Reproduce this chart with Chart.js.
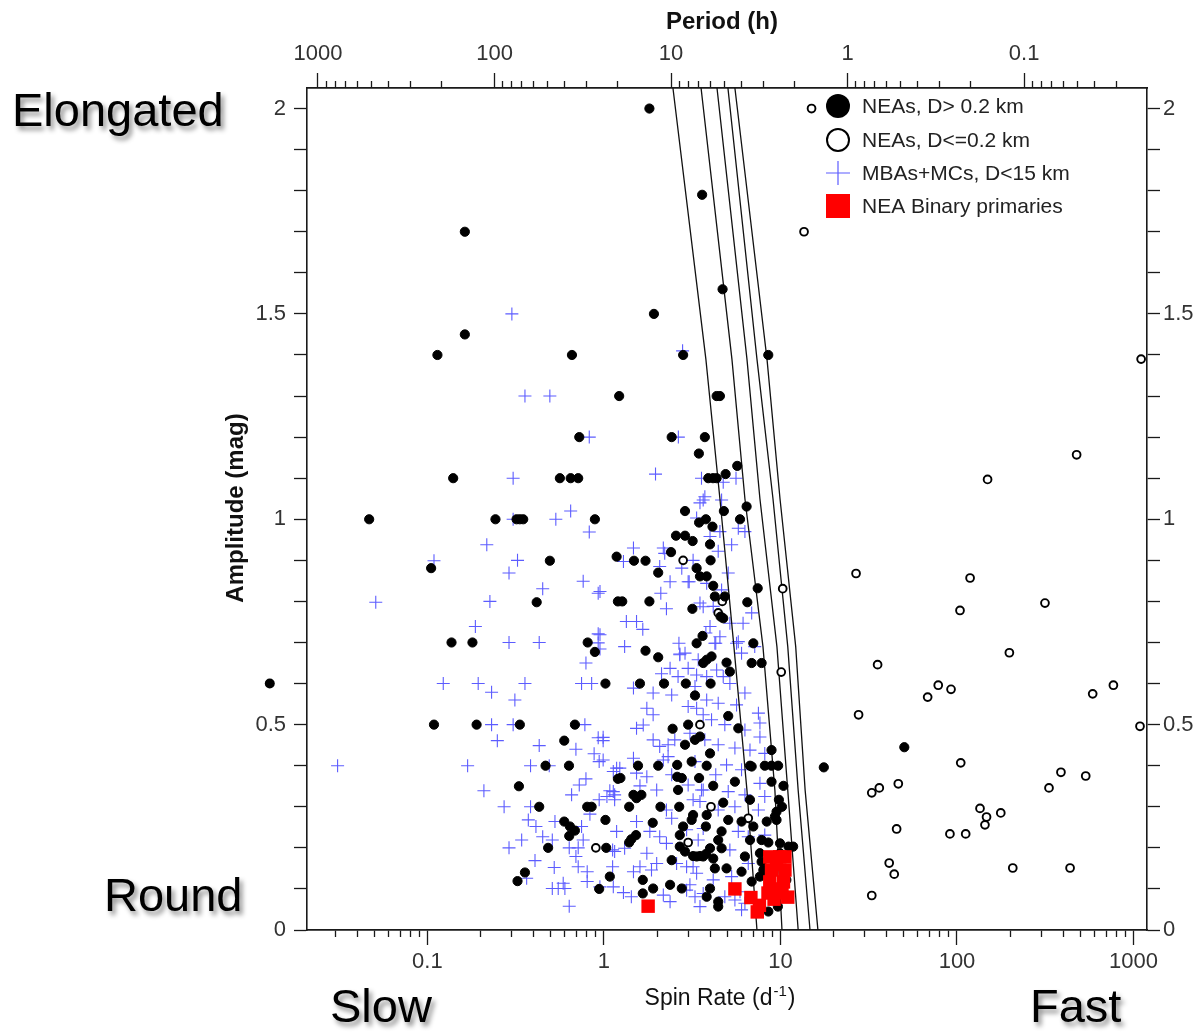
<!DOCTYPE html>
<html>
<head>
<meta charset="utf-8">
<script src="https://cdn.jsdelivr.net/npm/chart.js@4.4.1/dist/chart.umd.min.js"></script>
<style>
  html, body { margin: 0; padding: 0; background: #fff; }
</style>
</head>
<body>
<canvas id="spin-rate-chart" width="1203" height="1035"></canvas>
<script>
// points are [spin rate (1/d), amplitude (mag)]
var neaLarge = [
  [1.81,2.0],[3.6,1.79],[0.163,1.70],[4.7,1.56],[1.92,1.50],[0.163,1.45],[0.114,1.40],[0.659,1.40],[2.81,1.40],[8.53,1.40],
  [1.22,1.30],[4.35,1.30],[4.54,1.30],[0.725,1.20],[2.42,1.20],[3.73,1.20],[3.45,1.16],[5.69,1.13],[0.14,1.10],[0.563,1.10],
  [0.648,1.10],[0.715,1.10],[3.9,1.10],[4.15,1.10],[4.35,1.10],[4.89,1.11],
  [0.0468,1.0],[0.243,1.0],[0.32,1.0],[0.334,1.0],[0.349,1.0],[0.889,1.0],[1.18,0.909],[0.494,0.899],[0.105,0.881],[0.416,0.798],
  [0.137,0.70],[0.18,0.70],[0.809,0.70],[0.889,0.677],[1.02,0.60],[0.109,0.50],[0.19,0.50],[0.334,0.50],[0.685,0.50],[0.596,0.461],
  [0.467,0.40],[0.634,0.40],[1.2,0.368],[0.33,0.35],[0.43,0.30],[0.804,0.30],[0.852,0.30],[1.02,0.268],[0.596,0.264],[0.642,0.252],
  [0.685,0.242],[0.636,0.229],[0.483,0.20],[1.03,0.20],[0.357,0.14],[0.324,0.119],[1.08,0.13],[0.94,0.10],[0.0128,0.60],
  [2.88,1.02],[3.46,0.992],[3.78,1.0],[2.56,0.96],[2.88,0.96],[3.18,0.947],[2.4,0.92],[1.48,0.899],[1.72,0.899],[2.03,0.87],
  [3.35,0.881],[3.5,0.861],[3.82,0.861],[1.2,0.80],[1.27,0.80],[1.81,0.80],[3.17,0.782],[3.62,0.716],[3.35,0.698],[1.72,0.68],[2.03,0.664],
  [4.78,1.02],[6.43,1.031],[5.9,1.0],[4.12,0.982],[3.99,0.939],[4.02,0.90],[4.16,0.838],[7.43,0.832],[4.25,0.812],[4.84,0.812],
  [6.49,0.798],[4.58,0.763],[4.74,0.759],[7.02,0.698],
  [3.65,0.65],[1.6,0.60],[2.19,0.60],[2.91,0.60],[3.28,0.571],[2.45,0.49],[3.0,0.50],[3.28,0.463],[3.5,0.471],[2.88,0.451],
  [1.56,0.40],[2.03,0.40],[2.6,0.402],[3.14,0.41],[3.82,0.40],[1.24,0.37],[2.6,0.373],[2.76,0.37],[3.46,0.37],[2.63,0.341],
  [1.47,0.329],[1.63,0.329],[1.53,0.321],[1.39,0.30],[2.09,0.30],[2.67,0.30],[3.2,0.28],[3.14,0.268],[3.82,0.28],[1.89,0.261],
  [2.81,0.252],[2.69,0.231],[3.78,0.252],[1.52,0.231],[1.43,0.221],[1.39,0.213],[2.69,0.203],[2.88,0.191],[3.2,0.18],[3.5,0.18],
  [3.78,0.185],[2.42,0.17],[1.66,0.122],[1.9,0.101],[1.66,0.089],[2.37,0.11],[2.76,0.101],[3.82,0.081],
  [3.82,0.658],[4.07,0.666],[4.95,0.651],[5.17,0.629],[6.87,0.65],[7.82,0.65],[4.02,0.60],[5.06,0.521],[5.77,0.491],[8.9,0.438],
  [3.99,0.43],[6.87,0.398],[6.72,0.40],[8.15,0.40],[8.9,0.40],[9.7,0.40],[4.16,0.351],[5.52,0.361],[8.9,0.361],[10.4,0.351],
  [4.74,0.31],[6.72,0.317],[9.8,0.317],[10.2,0.30],[9.5,0.288],[9.3,0.276],[5.06,0.268],[6.02,0.264],[7.02,0.252],[8.36,0.264],
  [9.5,0.268],[4.64,0.24],[4.44,0.219],[4.64,0.199],[6.72,0.219],[7.82,0.219],[8.54,0.213],[9.94,0.211],[11.1,0.203],[11.8,0.203],
  [3.35,0.179],[3.65,0.179],[3.99,0.199],[4.16,0.174],[4.25,0.15],[6.29,0.179],[7.65,0.187],[7.82,0.166],[8.0,0.146],[7.65,0.13],
  [4.95,0.15],[6.02,0.142],[6.87,0.118],[3.99,0.101],[4.44,0.069],[4.44,0.057],[8.54,0.045],[9.67,0.057],[9.3,0.073],[10.6,0.138],
  [10.8,0.122],[9.94,0.187],[17.6,0.396],[50.3,0.445]
];

var neaSmall = [
  [15.0,2.0],[13.6,1.70],[1104,1.39],[476,1.157],[149,1.097],[26.8,0.868],[118.6,0.857],[104,0.778],[315,0.796],[198,0.675],
  [35.5,0.646],[78.3,0.596],[68.2,0.567],[92.5,0.586],[769,0.596],[587,0.575],[27.7,0.524],[1088,0.496],[105,0.407],[388,0.384],
  [536,0.375],[332,0.346],[32.9,0.334],[36.3,0.346],[46.5,0.356],[135,0.296],[147,0.275],[144,0.256],[177,0.285],[45.5,0.246],
  [91.2,0.234],[112,0.234],[41.3,0.163],[44.1,0.136],[207,0.151],[437,0.151],[32.9,0.084],[10.3,0.831],[10.1,0.628],[2.81,0.90],
  [4.68,0.80],[4.44,0.772],[3.5,0.50],[4.04,0.30],[3.0,0.213],[6.57,0.272],[0.90,0.20]
];

var mbaSmall = [
  [0.301,1.50],[0.357,1.30],[0.494,1.30],[0.826,1.20],[2.64,1.20],[2.79,1.41],[0.306,1.10],[1.96,1.11],[3.57,1.10],[4.74,1.09],[5.6,1.10],
  [3.73,1.055],[3.5,1.04],[3.65,1.047],[4.64,1.047],[3.35,1.003],[4.54,0.97],[5.77,0.978],[6.29,0.97],[3.99,0.958],[5.29,0.938],
  [4.44,0.922],[3.2,0.90],[2.76,0.881],[5.06,0.869],[3.0,0.848],[3.82,0.844],[4.64,0.828],[3.5,0.796],[4.16,0.788],[6.87,0.772],
  [3.99,0.739],[5.17,0.747],[6.14,0.747],[4.54,0.714],[4.25,0.698],[5.64,0.698],
  [1.47,0.93],[1.29,0.897],[2.17,0.93],[2.21,0.917],[2.07,0.885],[2.37,0.848],[3.04,0.848],[2.1,0.82],[2.26,0.782],[3.65,0.787],
  [1.34,0.751],[1.53,0.751],[1.66,0.732],[0.95,0.824],[0.95,0.719],[1.31,0.69],[0.95,0.684],[2.66,0.698],[2.69,0.672],[3.78,0.723],
  [0.648,1.02],[0.534,1.0],[0.306,1.0],[0.826,0.969],[0.217,0.938],[0.109,0.899],[0.324,0.9],[0.29,0.869],[0.763,0.849],[0.45,0.831],
  [0.928,0.82],[0.051,0.798],[0.226,0.80],[0.187,0.739],[0.928,0.721],[0.928,0.699],[0.29,0.70],[0.43,0.70],[0.791,0.65],[0.123,0.60],
  [0.194,0.60],[0.231,0.579],[0.357,0.60],[0.747,0.60],[0.852,0.60],[0.313,0.56],[0.231,0.50],[0.306,0.50],[0.78,0.50],[0.249,0.461],
  [0.928,0.468],[0.99,0.461],[0.43,0.449],[0.694,0.44],[0.88,0.429],[0.94,0.41],[0.031,0.40],[0.169,0.40],[0.384,0.40],[0.49,0.40],
  [1.18,0.394],[0.209,0.339],[0.791,0.368],[0.725,0.353],[0.656,0.329],[1.08,0.339],[1.15,0.329],[0.272,0.30],[0.384,0.30],[0.94,0.317],
  [0.833,0.282],[0.373,0.268],[0.412,0.252],[0.528,0.264],[0.45,0.227],[0.51,0.219],[0.747,0.252],[0.763,0.219],[0.342,0.219],[0.29,0.20],
  [0.636,0.20],[0.715,0.20],[1.12,0.195],[1.12,0.154],[0.694,0.179],[0.407,0.169],[0.523,0.152],[0.715,0.154],[0.804,0.142],[0.804,0.118],
  [0.949,0.105],[0.365,0.126],[0.51,0.101],[0.551,0.101],[0.588,0.114],[0.601,0.101],[0.636,0.058],
  [2.69,0.67],[2.12,0.624],[2.37,0.637],[2.63,0.617],[3.0,0.637],[3.35,0.621],[3.82,0.617],[1.47,0.589],[1.9,0.577],[2.42,0.572],
  [1.75,0.54],[1.9,0.524],[3.35,0.54],[3.65,0.524],[0.99,0.469],[1.53,0.491],[1.67,0.499],[1.9,0.463],[2.07,0.447],[2.31,0.451],
  [2.52,0.463],[0.99,0.414],[1.23,0.394],[1.13,0.386],[1.47,0.418],[1.53,0.382],[1.75,0.373],[2.17,0.414],[2.31,0.422],[2.42,0.378],
  [1.6,0.351],[1.99,0.341],[1.13,0.337],[1.04,0.325],[1.15,0.317],[3.57,0.341],[3.5,0.313],[2.26,0.292],[2.42,0.272],[1.53,0.264],
  [1.18,0.24],[1.82,0.24],[2.07,0.227],[2.26,0.211],[1.31,0.199],[1.15,0.191],[1.75,0.187],[1.99,0.162],[1.86,0.146],[1.6,0.154],
  [1.47,0.142],[2.58,0.162],[2.94,0.154],[3.35,0.138],[1.29,0.091],[1.43,0.081],[2.17,0.085],[2.37,0.069],[2.94,0.097],[3.28,0.081],
  [3.5,0.057],[1.13,0.105],
  [4.3,0.698],[5.77,0.702],[6.02,0.674],[7.15,0.69],[2.88,0.674],[3.42,0.658],[4.35,0.633],[4.74,0.617],[3.28,0.593],[3.82,0.56],
  [5.17,0.60],[6.29,0.577],[4.44,0.552],[5.64,0.548],[7.5,0.528],[7.65,0.504],[3.0,0.544],[4.07,0.512],[4.84,0.50],[6.29,0.487],
  [7.65,0.47],[3.07,0.479],[3.73,0.463],[4.44,0.451],[5.52,0.443],[6.72,0.438],[8.15,0.43],[3.28,0.41],[4.95,0.402],[6.02,0.39],
  [4.3,0.378],[7.65,0.357],[3.0,0.353],[3.65,0.341],[5.06,0.337],[6.29,0.329],[8.15,0.325],[3.2,0.317],[4.44,0.292],[5.52,0.30],
  [7.5,0.292],[3.65,0.247],[5.77,0.24],[6.57,0.227],[2.94,0.244],[3.42,0.219],[5.17,0.195],[3.2,0.154],[4.16,0.122],[5.29,0.13],
  [6.57,0.162],[8.15,0.231],[3.07,0.11],[3.65,0.089],[4.84,0.081],[5.9,0.093],[6.29,0.065],[6.02,0.049],[5.52,0.073]
];

var neaBinary = [
  [1.78,0.058],[5.52,0.10],[6.8,0.079],[7.39,0.044],[7.6,0.06],[8.7,0.178],[9.9,0.178],[10.6,0.178],[8.9,0.146],[10.6,0.146],
  [8.7,0.117],[10.4,0.117],[8.5,0.09],[9.7,0.09],[11.0,0.08],[9.2,0.075],[10.2,0.1],[9.5,0.16]
];

var barrierAmp = [2.05, 1.39, 1.05, 0.69, 0.34, 0];
var barrierSpin1 = [2.46, 3.78, 4.54, 5.45, 6.46, 7.36];
var barrierSpin2 = [3.55, 5.31, 6.29, 7.96, 9.3, 10.2];
var barrierSpin3 = [4.37, 6.46, 7.65, 9.55, 11.0, 12.6];
var barrierSpin4 = [5.04, 7.36, 9.07, 11.0, 12.6, 14.7];
var barrierSpin5 = [5.52, 8.39, 9.94, 12.2, 13.8, 16.3];

var spinMajorTicks = [0.1, 1, 10, 100, 1000];
var periodMajorTicks = [1000, 100, 10, 1, 0.1];
var ampLabels = [0, 0.5, 1, 1.5, 2];
var spinMin = 0.0208, spinMax = 1192;
var ampMin = 0, ampMax = 2.05;

var seriesNames = ['NEAs, D> 0.2 km', 'NEAs, D<=0.2 km', 'MBAs+MCs, D<15 km', 'NEA Binary primaries'];

function toXY(p) { return { x: p[0], y: p[1] }; }

function minorsOf(decades) {
  var out = [];
  for (var i = 0; i < decades.length; i++) {
    for (var m = 2; m <= 9; m++) out.push(Math.round(m * decades[i] * 1e6) / 1e6);
  }
  return out;
}

var spinMinorTicks = minorsOf([0.01, 0.1, 1, 10, 100, 1000]).filter(function(v) { return v > spinMin && v < spinMax; });
var periodMinorTicks = minorsOf([0.01, 0.1, 1, 10, 100]).filter(function(p) { return 24 / p > spinMin && 24 / p < spinMax; });

function useTicks(values) {
  return function(scale) {
    scale.ticks = values.map(function(v) { return { value: v }; });
  };
}
function fixHeight(h) { return function(scale) { scale.height = h; }; }
function fixWidth(w) { return function(scale) { scale.width = w; }; }

var frameColor = '#1a1a1a';
var labelColor = '#333';
var fontFamily = '"Liberation Sans", Arial, sans-serif';

function xAxis(position, weight, ticks, tickLength, height, labels, pad) {
  return {
    type: 'logarithmic',
    position: position,
    weight: weight,
    min: spinMin,
    max: spinMax,
    afterBuildTicks: useTicks(ticks),
    afterFit: fixHeight(height),
    grid: { drawOnChartArea: false, tickLength: tickLength, tickColor: frameColor, tickWidth: 1.3 },
    border: { color: frameColor, width: 1.6 },
    ticks: {
      display: !!labels,
      autoSkip: false,
      maxRotation: 0,
      padding: pad || 3,
      color: labelColor,
      font: { size: 22 },
      callback: function(v, i) { return labels ? String(labels[i]) : ''; }
    }
  };
}

function yAxis(position, width, pad) {
  return {
    type: 'linear',
    position: position,
    min: ampMin,
    max: ampMax,
    afterFit: fixWidth(width),
    grid: { drawOnChartArea: false, tickLength: 13, tickColor: frameColor, tickWidth: 1.3 },
    border: { color: frameColor, width: 1.6 },
    ticks: {
      stepSize: 0.1,
      includeBounds: false,
      autoSkip: false,
      padding: pad,
      color: labelColor,
      font: { size: 22 },
      callback: function(v) {
        for (var i = 0; i < ampLabels.length; i++) {
          if (Math.abs(v - ampLabels[i]) < 1e-6) return String(ampLabels[i]);
        }
        return '';
      }
    }
  };
}

var curves = [barrierSpin1, barrierSpin2, barrierSpin3, barrierSpin4, barrierSpin5].map(function(spins) {
  return {
    label: 'barrier',
    data: spins.map(function(s, i) { return { x: s, y: barrierAmp[i] }; }),
    showLine: true,
    borderColor: '#111',
    borderWidth: 1.3,
    pointRadius: 0,
    order: 4
  };
});

var BLACK_INDEX = 7;

// Chart.js skips points outside the chart area; the one slow rotator left of
// the frame is still drawn at the position the x scale gives it
var offScale = {
  id: 'offScale',
  afterDatasetsDraw: function(chart) {
    var area = chart.chartArea;
    var meta = chart.getDatasetMeta(BLACK_INDEX);
    var ctx = chart.ctx;
    ctx.save();
    ctx.fillStyle = '#000';
    meta.data.forEach(function(pt) {
      if (pt.x < area.left || pt.x > area.right) {
        ctx.beginPath();
        ctx.arc(pt.x, pt.y, 5, 0, Math.PI * 2);
        ctx.fill();
      }
    });
    ctx.restore();
  }
};

// legend, titles and the big corner words
var annotations = {
  id: 'annotations',
  afterDraw: function(chart) {
    var ctx = chart.ctx;
    ctx.save();

    // legend
    var lx = 838, rows = [106, 140, 173, 206];
    ctx.fillStyle = '#000';
    ctx.beginPath(); ctx.arc(lx, rows[0], 12, 0, Math.PI * 2); ctx.fill();
    ctx.beginPath(); ctx.arc(lx, rows[1], 11, 0, Math.PI * 2);
    ctx.fillStyle = '#fff'; ctx.fill();
    ctx.lineWidth = 2; ctx.strokeStyle = '#000'; ctx.stroke();
    ctx.beginPath();
    ctx.moveTo(lx - 12, rows[2]); ctx.lineTo(lx + 12, rows[2]);
    ctx.moveTo(lx, rows[2] - 12); ctx.lineTo(lx, rows[2] + 12);
    ctx.lineWidth = 1.2; ctx.strokeStyle = '#5c5cff'; ctx.stroke();
    ctx.fillStyle = '#ff0000';
    ctx.fillRect(lx - 12, rows[3] - 12, 24, 24);

    ctx.fillStyle = '#222';
    ctx.font = '21px ' + fontFamily;
    ctx.textAlign = 'left';
    ctx.textBaseline = 'middle';
    for (var i = 0; i < seriesNames.length; i++) {
      ctx.fillText(seriesNames[i], 862, rows[i] + 1);
    }

    // axis titles
    ctx.fillStyle = '#111';
    ctx.font = 'bold 24px ' + fontFamily;
    ctx.textAlign = 'center';
    ctx.fillText('Period (h)', 722, 22);

    ctx.save();
    ctx.translate(236, 508);
    ctx.rotate(-Math.PI / 2);
    ctx.fillText('Amplitude (mag)', 0, 0);
    ctx.restore();

    ctx.textBaseline = 'alphabetic';
    ctx.textAlign = 'left';
    ctx.font = '23px ' + fontFamily;
    var main = 'Spin Rate (d', sup = '-1', tail = ')';
    var w1 = ctx.measureText(main).width;
    ctx.font = '15px ' + fontFamily;
    var w2 = ctx.measureText(sup).width;
    ctx.font = '23px ' + fontFamily;
    var w3 = ctx.measureText(tail).width;
    var sx = 719 - (w1 + w2 + w3) / 2;
    ctx.fillText(main, sx, 1005);
    ctx.font = '15px ' + fontFamily;
    ctx.fillText(sup, sx + w1 + 1, 996);
    ctx.font = '23px ' + fontFamily;
    ctx.fillText(tail, sx + w1 + w2 + 2, 1005);

    // big words with drop shadow
    ctx.font = '47px ' + fontFamily;
    ctx.fillStyle = '#000';
    ctx.shadowColor = 'rgba(0,0,0,0.45)';
    ctx.shadowOffsetX = 3;
    ctx.shadowOffsetY = 4;
    ctx.shadowBlur = 5;
    ctx.fillText('Elongated', 12, 126);
    ctx.fillText('Round', 104, 911);
    ctx.fillText('Slow', 330, 1022);
    ctx.fillText('Fast', 1030, 1022);

    ctx.restore();
  }
};

Chart.defaults.font.family = fontFamily;

var ctx = document.getElementById('spin-rate-chart').getContext('2d');
var chart = new Chart(ctx, {
  type: 'scatter',
  data: {
    datasets: curves.concat([
      {
        label: seriesNames[2],
        data: mbaSmall.map(toXY),
        pointStyle: 'cross',
        pointRadius: 6.5,
        borderColor: '#5c5cff',
        borderWidth: 1.1,
        order: 5
      },
      {
        label: seriesNames[1],
        data: neaSmall.map(toXY),
        pointStyle: 'circle',
        pointRadius: 3.9,
        backgroundColor: '#fff',
        borderColor: '#000',
        borderWidth: 1.9,
        order: 3
      },
      {
        label: seriesNames[0],
        data: neaLarge.map(toXY),
        pointStyle: 'circle',
        pointRadius: 4.6,
        backgroundColor: '#000',
        borderColor: '#000',
        borderWidth: 1,
        order: 2
      },
      {
        label: seriesNames[3],
        data: neaBinary.map(toXY),
        pointStyle: 'rect',
        pointRadius: 9.5,
        backgroundColor: '#ff0000',
        borderWidth: 0,
        order: 1
      }
    ])
  },
  options: {
    responsive: false,
    animation: false,
    devicePixelRatio: 1,
    events: [],
    layout: { padding: 0 },
    plugins: { legend: { display: false }, tooltip: { enabled: false } },
    scales: {
      x: xAxis('bottom', 0, spinMinorTicks, 7, 0, null),
      xMajor: xAxis('bottom', 1, spinMajorTicks, 15, 105, spinMajorTicks, 4),
      xTop: xAxis('top', 0, periodMinorTicks.map(function(p) { return 24 / p; }), 7, 0, null),
      xTopMajor: xAxis('top', 1, periodMajorTicks.map(function(p) { return 24 / p; }), 15, 88, periodMajorTicks, 6),
      y: yAxis('left', 307, 8),
      yRight: yAxis('right', 56, 3)
    }
  },
  plugins: [offScale, annotations]
});
</script>
</body>
</html>
